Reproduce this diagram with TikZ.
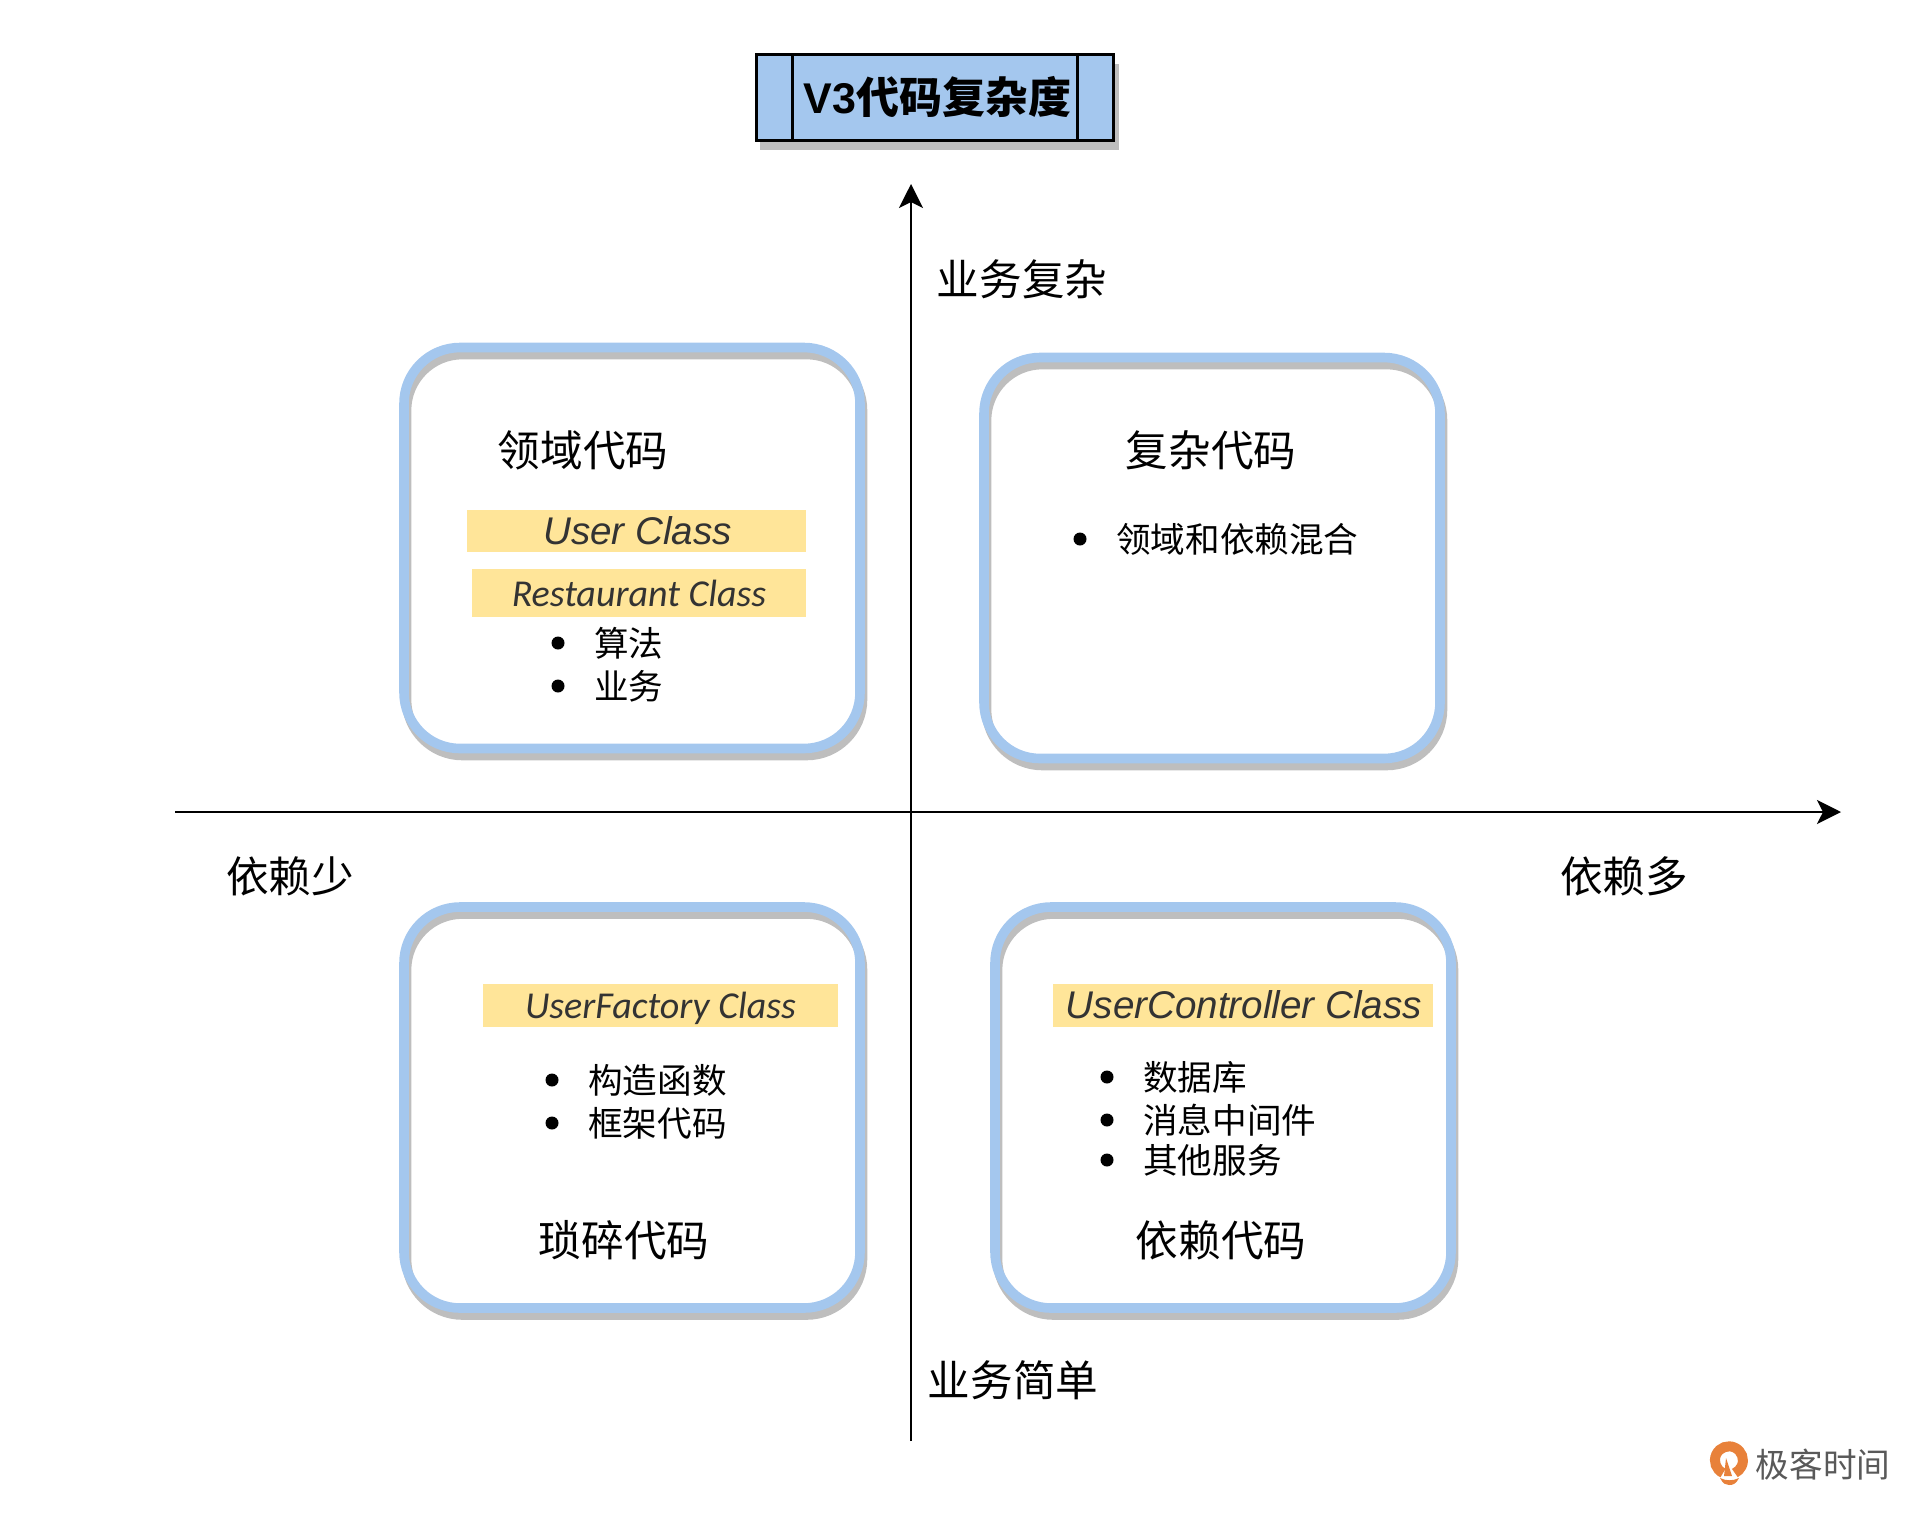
\documentclass[tikz,border=0pt]{standalone}
\usepackage{fontspec}
\setmainfont{Noto Sans CJK SC}
\newfontfamily\latinfont{Liberation Sans}
\newfontfamily\comicfont{Carlito}
\usetikzlibrary{arrows.meta,positioning}
\definecolor{boxblue}{HTML}{A4C7EE}
\definecolor{boxgray}{HTML}{BEBEBE}
\definecolor{barfill}{HTML}{FFE599}
\definecolor{logoorange}{HTML}{E8813A}

\begin{document}
\begin{tikzpicture}
  [x=0.5pt,y=-0.5pt,
  codebox/.style={rectangle,draw=boxblue,line width=4.8pt,rounded corners=28pt,minimum width=228pt,minimum height=200.5pt,inner sep=0pt},
  codeshadow/.style={codebox,draw=boxgray},
  titlepart/.style={rectangle,draw=black,line width=1.5pt,fill=boxblue,minimum height=43pt,inner sep=0pt,outer sep=0pt},
  titleshadow/.style={rectangle,fill=boxgray,minimum width=179.5pt,minimum height=43pt,inner sep=0pt},
  axisline/.style={line width=1.4pt,-{Stealth[length=12pt,width=12pt,inset=3pt]}},
  bigtext/.style={inner sep=0pt,font=\fontsize{21.3pt}{21.3pt}\selectfont},
  listtext/.style={inner sep=0pt,font=\fontsize{17.3pt}{17.3pt}\selectfont},
  listdot/.style={circle,fill=black,minimum size=6.5pt,inner sep=0pt},
  classbar/.style={rectangle,fill=barfill,text=black!80,inner sep=0pt,text height=15.5pt,text depth=2.5pt},
  plainclass/.style={classbar,font=\latinfont\itshape\fontsize{19.3pt}{19.3pt}\selectfont},
  comicclass/.style={classbar,font=\comicfont\itshape\fontsize{19pt}{19pt}\selectfont}]
  \useasboundingbox (0,0) rectangle (1920,1521);
  % title
  \node (titleBack) [titleshadow] at (939.5,107) {};
  \node (title) [titlepart,minimum width=142.5pt,font=\bfseries\fontsize{21.5pt}{21.5pt}\selectfont] at (934.5,97) {\hspace*{3pt}{\latinfont\bfseries V3}代码复杂度};
  \node (titleLeft) [titlepart,minimum width=18pt,left=0pt of title] {};
  \node (titleRight) [titlepart,minimum width=18pt,right=0pt of title] {};
  % axes
  \coordinate (xStart) at (175,812);
  \coordinate (xEnd) at (1841,812);
  \coordinate (yStart) at (911,1441);
  \coordinate (yEnd) at (911,184);
  \draw [axisline] (xStart) -- (xEnd);
  \draw [axisline] (yStart) -- (yEnd);
  \node (yUp) [bigtext] at (1022,279) {业务复杂};
  \node (yDown) [bigtext] at (1013,1380) {业务简单};
  \node (xLeft) [bigtext] at (290,876) {依赖少};
  \node (xRight) [bigtext] at (1624,876) {依赖多};
  % domain code
  \node (domainBack) [codeshadow] at (634.5,555) {};
  \node (domain) [codebox] at (632,548) {};
  \node (domainName) [bigtext] at (583,450) {领域代码};
  \node (userBar) [plainclass,minimum width=169.5pt,minimum height=21pt] at (636.5,531) {\hspace*{1pt}User Class};
  \node (restaurantBar) [comicclass,minimum width=167pt,minimum height=24pt] at (639,593) {Restaurant Class};
  \node (dotA) [listdot] at (558,643) {};
  \node (algo) [listtext,right=14.5pt of dotA] {算法};
  \node (dotB) [listdot] at (558,686) {};
  \node (biz) [listtext,right=14.5pt of dotB] {业务};
  % complex code
  \node (complexBack) [codeshadow] at (1214.5,565) {};
  \node (complex) [codebox] at (1212,558) {};
  \node (complexName) [bigtext] at (1211,450) {复杂代码};
  \node (dotC) [listdot] at (1080,539) {};
  \node (mixed) [listtext,right=14.5pt of dotC] {领域和依赖混合};
  % trivial code
  \node (trivialBack) [codeshadow] at (634.5,1114.5) {};
  \node (trivial) [codebox] at (632,1107.5) {};
  \node (factoryBar) [comicclass,minimum width=177.5pt,minimum height=21.5pt] at (660.5,1005.5) {UserFactory Class};
  \node (dotD) [listdot] at (552,1080) {};
  \node (ctor) [listtext,right=14.5pt of dotD] {构造函数};
  \node (dotE) [listdot] at (552,1123) {};
  \node (framework) [listtext,right=14.5pt of dotE] {框架代码};
  \node (trivialName) [bigtext] at (624,1240) {琐碎代码};
  % dependency code
  \node (dependBack) [codeshadow] at (1225.5,1114.5) {};
  \node (depend) [codebox] at (1223,1107.5) {};
  \node (controllerBar) [plainclass,minimum width=190pt,minimum height=21.5pt] at (1243,1005.5) {\hspace*{1pt}UserController Class};
  \node (dotF) [listdot] at (1107,1077) {};
  \node (database) [listtext,right=14.5pt of dotF] {数据库};
  \node (dotG) [listdot] at (1107,1120) {};
  \node (middleware) [listtext,right=14.5pt of dotG] {消息中间件};
  \node (dotH) [listdot] at (1107,1160) {};
  \node (services) [listtext,right=14.5pt of dotH] {其他服务};
  \node (dependName) [bigtext] at (1221,1240) {依赖代码};
  % logo
  \draw [logoorange,line width=5pt] (1723,1473) arc (115:425:14);
  \fill [logoorange] (1726,1458) -- (1732,1476) -- (1724,1476) -- cycle;
  \fill [logoorange] (1720,1478) .. controls (1726,1481) and (1733,1481) .. (1739,1478) .. controls (1736,1484) and (1733,1485) .. (1729,1485) .. controls (1726,1485) and (1723,1484) .. (1720,1478) -- cycle;
  \node (logoText) [inner sep=0pt,text=black!65,font=\fontsize{16.8pt}{16.8pt}\selectfont] at (1823,1465) {极客时间};
\end{tikzpicture}
\end{document}
